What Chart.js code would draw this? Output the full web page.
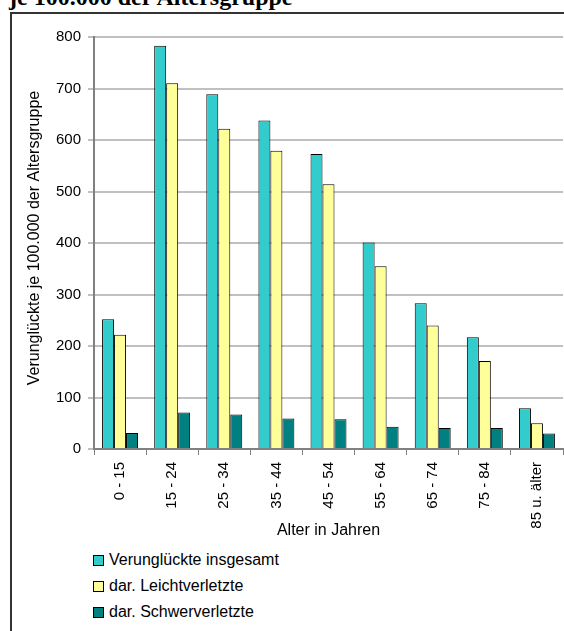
<!DOCTYPE html>
<html><head><meta charset="utf-8">
<script src="https://cdn.jsdelivr.net/npm/chart.js@4"></script>
<style>
html,body{margin:0;padding:0;background:#fff;overflow:hidden;width:564px;height:631px;}
#hline{position:absolute;left:10px;top:12px;width:554px;height:2px;background:#333;}
#vline{position:absolute;left:10px;top:12px;width:2px;height:619px;background:#333;}
#title{position:absolute;left:9px;top:-15px;font:bold 24px "Liberation Serif";white-space:nowrap;line-height:24px;color:#000;}
#c{position:absolute;left:0;top:0;}
#legend{position:absolute;left:93px;top:547px;font:16px "Liberation Sans";color:#000;}
.item{height:26px;display:flex;align-items:center;}
.sw{width:11px;height:11px;border:1px solid #000;margin-right:5px;box-sizing:border-box;}
</style>
</head><body>
<div id="title">je 100.000 der Altersgruppe</div>
<div id="hline"></div>
<div id="vline"></div>
<canvas id="c" width="564" height="545"></canvas>
<div id="legend"></div>
<script>
const categories = ['0 - 15','15 - 24','25 - 34','35 - 44','45 - 54','55 - 64','65 - 74','75 - 84','85 u. älter'];
const seriesNames = ['Verunglückte insgesamt','dar. Leichtverletzte','dar. Schwerverletzte'];
const insgesamt = [252,783,689,638,573,401,283,217,79];
const leicht = [222,710,622,579,514,355,240,171,50];
const schwer = [31,71,67,59,58,43,41,41,30];
const colors = ['#33CCCC','#FFFF99','#008080'];
const yTitle = 'Verunglückte je 100.000 der Altersgruppe';
const xTitle = 'Alter in Jahren';
const yMin = 0, yMax = 800, yStep = 100;

const font = {family:'"Liberation Sans", Arial, sans-serif', size:15};
const yTitlePlugin = {
  id:'ytitle',
  afterDraw(chart){
    const ctx = chart.ctx;
    ctx.save();
    ctx.translate(35,238);
    ctx.rotate(-Math.PI/2);
    ctx.font = '16px "Liberation Sans", Arial, sans-serif';
    ctx.fillStyle = '#000';
    ctx.textAlign = 'center';
    ctx.textBaseline = 'middle';
    ctx.fillText(yTitle,0,0);
    ctx.restore();
  }
};
const data = [insgesamt, leicht, schwer];
new Chart(document.getElementById('c'), {
  type:'bar',
  data:{
    labels:categories,
    datasets: data.map((d,i)=>({label:seriesNames[i], data:d, backgroundColor:colors[i], borderColor:'#000', borderWidth:1, categoryPercentage:0.69, barPercentage:1.0}))
  },
  options:{
    responsive:false, animation:false,
    layout:{padding:{top:37,right:1,left:0,bottom:0}},
    plugins:{legend:{display:false}, tooltip:{enabled:false}},
    scales:{
      x:{
        grid:{offset:true, drawOnChartArea:false, tickLength:6, color:'#808080', lineWidth:1},
        border:{color:'#808080', width:2},
        ticks:{minRotation:90, maxRotation:90, padding:7, color:'#000', font:font, autoSkip:false},
        title:{display:true, text:xTitle, color:'#000', font:{family:font.family, size:16}, padding:{top:0,bottom:5}},
        afterFit:a=>{a.height=96;}
      },
      y:{
        min:yMin, max:yMax,
        ticks:{stepSize:yStep, padding:7, color:'#000', font:font},
        grid:{color:'#c0c0c0', lineWidth:2, tickLength:6, tickColor:'#808080', tickWidth:1},
        border:{color:'#808080', width:2},
        afterFit:a=>{a.width=94;}
      }
    }
  },
  plugins:[yTitlePlugin]
});
const lg = document.getElementById('legend');
seriesNames.forEach((n,i)=>{
  const it=document.createElement('div'); it.className='item';
  const sw=document.createElement('div'); sw.className='sw'; sw.style.background=colors[i];
  const t=document.createElement('span'); t.textContent=n;
  it.appendChild(sw); it.appendChild(t); lg.appendChild(it);
});
</script>
</body></html>
